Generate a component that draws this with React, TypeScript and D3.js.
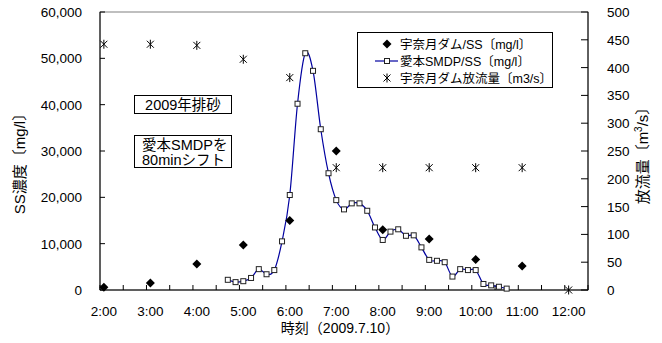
import * as d3 from 'd3';
import React from 'react';

// 宇奈月ダム SS (mg/l)
const damTimes = ['2:00', '3:00', '4:00', '5:00', '6:00', '7:00', '8:00', '9:00', '10:00', '11:00'];
const damSS = [600, 1500, 5600, 9700, 15000, 30000, 13000, 11000, 6600, 5200];

// 宇奈月ダム 放流量 (m3/s)
const flowTimes = ['2:00', '3:00', '4:00', '5:00', '6:00', '7:00', '8:00', '9:00', '10:00', '11:00', '12:00'];
const flowQ = [442, 442, 440, 415, 382, 220, 220, 220, 220, 220, 0];

// 愛本SMDP SS (80min shifted)
const smdpTimes = [
  '4:40', '4:50', '5:00', '5:10', '5:20', '5:30', '5:40', '5:50', '6:00', '6:10',
  '6:20', '6:30', '6:40', '6:50', '7:00', '7:10', '7:20', '7:30', '7:40', '7:50',
  '8:00', '8:10', '8:20', '8:30', '8:40', '8:50', '9:00', '9:10', '9:20', '9:30',
  '9:40', '9:50', '10:00', '10:10', '10:20', '10:30', '10:40',
];
const smdpSS = [
  2200, 1700, 1900, 2600, 4500, 3400, 4300, 10500, 20500, 40200,
  51100, 47300, 34700, 25200, 19400, 17400, 18700, 18700, 17100, 13500,
  10800, 12600, 13100, 11700, 11800, 9200, 6500, 6300, 6000, 2900,
  4500, 4300, 4300, 1300, 1000, 700, 300,
];

const hourLabels = ['2:00', '3:00', '4:00', '5:00', '6:00', '7:00', '8:00', '9:00', '10:00', '11:00', '12:00'];
const leftTicks = [0, 10000, 20000, 30000, 40000, 50000, 60000];
const rightTicks = [0, 50, 100, 150, 200, 250, 300, 350, 400, 450, 500];

const hourOf = (s: string) => {
  const [h, m] = s.split(':').map(Number);
  return h + m / 60;
};

const W = 662;
const H = 343;
const left = 100, right = 588, top = 12, bottom = 290;
const xMin = hourOf('1:55'), xMax = hourOf('12:25');
const font = "'Liberation Sans', 'Noto Sans CJK JP', sans-serif";

const diamond = 'M0,-4.5L4.5,0L0,4.5L-4.5,0Z';
const star = 'M-3.5,-3.5L3.5,3.5M-3.5,3.5L3.5,-3.5M0,-4.5L0,4.5';

export default function App() {
  const x = d3.scaleLinear().domain([xMin, xMax]).range([left, right]);
  const yL = d3.scaleLinear().domain([0, 60000]).range([bottom, top]);
  const yR = d3.scaleLinear().domain([0, 500]).range([bottom, top]);

  // minor ticks every 30 min from axis start
  const xTicks = d3.range(xMin, xMax + 0.001, 0.5);

  const line = d3
    .line<number>()
    .x((_, i) => x(hourOf(smdpTimes[i])))
    .y((d) => yL(d))
    .curve(d3.curveCatmullRom.alpha(0));

  return (
    <svg width={W} height={H} style={{ position: 'absolute', left: 0, top: 0, background: '#fff' }} fontFamily={font}>
      {/* plot frame */}
      <rect x={left} y={top} width={right - left} height={bottom - top} fill="none" stroke="#808080" />
      <line x1={left} x2={left} y1={top} y2={bottom} stroke="#000" />
      <line x1={right} x2={right} y1={top} y2={bottom} stroke="#000" />
      <line x1={left} x2={right} y1={bottom} y2={bottom} stroke="#000" />

      {/* x ticks */}
      {xTicks.map((t, i) => (
        <line key={i} x1={x(t)} x2={x(t)} y1={bottom} y2={bottom - 5} stroke="#000" />
      ))}
      {hourLabels.map((s) => (
        <text key={s} x={x(hourOf(s))} y={316} textAnchor="middle" fontSize={13.5}>{s}</text>
      ))}
      <text x={340} y={333} textAnchor="middle" fontSize={14}>時刻（2009.7.10）</text>

      {/* left axis */}
      {leftTicks.map((v) => (
        <g key={v}>
          <line x1={left} x2={left + 5} y1={yL(v)} y2={yL(v)} stroke="#000" />
          <text x={82} y={yL(v) + 5} textAnchor="end" fontSize={13.5}>{d3.format(',')(v)}</text>
        </g>
      ))}
      <text transform={`translate(25,160) rotate(-90)`} textAnchor="middle" fontSize={15}>SS濃度〔mg/l〕</text>

      {/* right axis */}
      {rightTicks.map((v) => (
        <g key={v}>
          <line x1={right} x2={right - 7} y1={yR(v)} y2={yR(v)} stroke="#000" />
          <text x={607} y={yR(v) + 5} textAnchor="start" fontSize={13.5}>{v}</text>
        </g>
      ))}
      <text transform={`translate(648,152) rotate(-90)`} textAnchor="middle" fontSize={15}>
        放流量〔m<tspan dy={-6} fontSize={10}>3</tspan><tspan dy={6}>/s〕</tspan>
      </text>

      {/* annotations */}
      <rect x={134.5} y={95.5} width={97} height={18} fill="#fff" stroke="#000" />
      <text x={183} y={110} textAnchor="middle" fontSize={14.5}>2009年排砂</text>
      <rect x={134.5} y={135.5} width={97} height={32} fill="#fff" stroke="#000" />
      <text x={142} y={150} fontSize={14.5}>愛本SMDPを</text>
      <text x={142} y={164.5} fontSize={14.5}>80minシフト</text>

      {/* series: 愛本SMDP */}
      <path d={line(smdpSS) || ''} fill="none" stroke="#0000a0" strokeWidth={1.2} />
      {smdpSS.map((v, i) => (
        <rect key={i} x={x(hourOf(smdpTimes[i])) - 2.5} y={yL(v) - 2.5} width={5} height={5} fill="#fff" stroke="#222" />
      ))}

      {/* series: 宇奈月ダム SS */}
      {damSS.map((v, i) => (
        <path key={i} d={diamond} transform={`translate(${x(hourOf(damTimes[i]))},${yL(v)})`} fill="#000" />
      ))}

      {/* series: 放流量 */}
      {flowQ.map((v, i) => (
        <path key={i} d={star} transform={`translate(${x(hourOf(flowTimes[i]))},${yR(v)})`} stroke="#000" fill="none" />
      ))}

      {/* legend */}
      <rect x={357.5} y={32.5} width={195} height={55} fill="#fff" stroke="#000" />
      <path d={diamond} transform="translate(387,44)" fill="#000" />
      <text x={400} y={48.5} fontSize={12.5}>宇奈月ダム/SS〔mg/l〕</text>
      <line x1={375} x2={398} y1={61} y2={61} stroke="#0000a0" strokeWidth={1.2} />
      <rect x={384.5} y={58.5} width={5} height={5} fill="#fff" stroke="#222" />
      <text x={400} y={65.5} fontSize={12.5}>愛本SMDP/SS〔mg/l〕</text>
      <path d={star} transform="translate(387,78)" stroke="#000" fill="none" />
      <text x={400} y={82.5} fontSize={12.5}>宇奈月ダム放流量〔m3/s〕</text>
    </svg>
  );
}
